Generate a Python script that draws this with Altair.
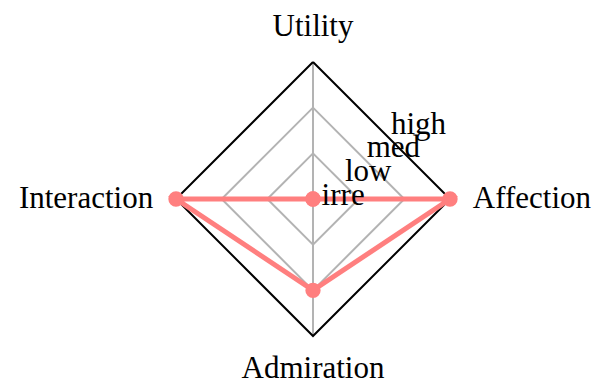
import altair as alt
import pandas as pd
import numpy as np

# ---- data ----
axis_names = ["Utility", "Affection", "Admiration", "Interaction"]
axis_angles = [90, 0, 270, 180]          # direction of each spoke (degrees)
level_names = ["irre", "low", "med", "high"]
series_levels = ["irre", "high", "med", "high"]   # value per axis

# ---- derived tables ----
lvl_idx = {n: i for i, n in enumerate(level_names)}
R = len(level_names) - 1
rad = np.deg2rad(axis_angles)

ring_rows = []
for k in range(1, R + 1):
    for j, a in enumerate(list(rad) + [rad[0]]):
        ring_rows.append({"level": k, "ord": j, "x": k * np.cos(a), "y": k * np.sin(a)})
rings = pd.DataFrame(ring_rows)

spokes = pd.DataFrame({"x": 0.0, "y": 0.0,
                       "x2": R * np.cos(rad), "y2": R * np.sin(rad)})

sv = [lvl_idx[v] for v in series_levels]
series = pd.DataFrame({
    "axis": axis_names + [axis_names[0]],
    "ord": list(range(len(axis_names) + 1)),
    "x": [v * np.cos(a) for v, a in zip(sv + [sv[0]], list(rad) + [rad[0]])],
    "y": [v * np.sin(a) for v, a in zip(sv + [sv[0]], list(rad) + [rad[0]])],
})

lab_r = 3.5
alig = {90: "center", 0: "left", 270: "center", 180: "right"}
axlab = pd.DataFrame({
    "name": axis_names,
    "x": lab_r * np.cos(rad),
    "y": [3.77 if a == 90 else (-3.72 if a == 270 else lab_r * np.sin(r)) for a, r in zip(axis_angles, rad)],
    "al": [alig[a] for a in axis_angles],
})

lvlab = pd.DataFrame({
    "name": level_names,
    "x": [0.66 + 0.55 * k for k in range(len(level_names))],
    "y": [0.07 + 0.52 * k for k in range(len(level_names))],
})

W, H = 586, 370
unit = 137 / 3.0
cx, cy = 305, 191
xs = alt.Scale(domain=[-cx / unit, (W - cx) / unit], nice=False, zero=False)
ys = alt.Scale(domain=[-(H - cy) / unit, cy / unit], nice=False, zero=False)
X = alt.X("x:Q", scale=xs, axis=None)
Y = alt.Y("y:Q", scale=ys, axis=None)

FONT = "Liberation Serif"
FS = 31

inner = alt.Chart(rings[rings["level"] < R]).mark_line(color="#b3b3b3", strokeWidth=2).encode(
    x=X, y=Y, detail="level:N", order="ord:Q")
sp = alt.Chart(spokes).mark_rule(color="#b3b3b3", strokeWidth=2).encode(
    x=X, y=Y, x2="x2:Q", y2="y2:Q")
outer = alt.Chart(rings[rings["level"] == R]).mark_line(color="black", strokeWidth=2).encode(
    x=X, y=Y, order="ord:Q")
line = alt.Chart(series).mark_line(color="#ff7f7f", strokeWidth=5).encode(
    x=X, y=Y, order="ord:Q")
pts = alt.Chart(series).mark_circle(color="#ff7f7f", size=235, opacity=1).encode(x=X, y=Y)

labs = []
for al in ["left", "right", "center"]:
    d = axlab[axlab["al"] == al]
    labs.append(alt.Chart(d).mark_text(font=FONT, fontSize=FS, align=al, baseline="middle",
                                        color="black").encode(x=X, y=Y, text="name:N"))
lv = alt.Chart(lvlab).mark_text(font=FONT, fontSize=FS, align="center", baseline="middle",
                                color="black").encode(x=X, y=Y, text="name:N")

chart = alt.layer(inner, sp, outer, line, pts, lv, *labs).properties(
    width=W, height=H, padding=0, autosize=alt.AutoSizeParams(type="none")
).configure_view(stroke=None)

chart.save("out.html", embed_options={"renderer": "svg", "actions": False})
